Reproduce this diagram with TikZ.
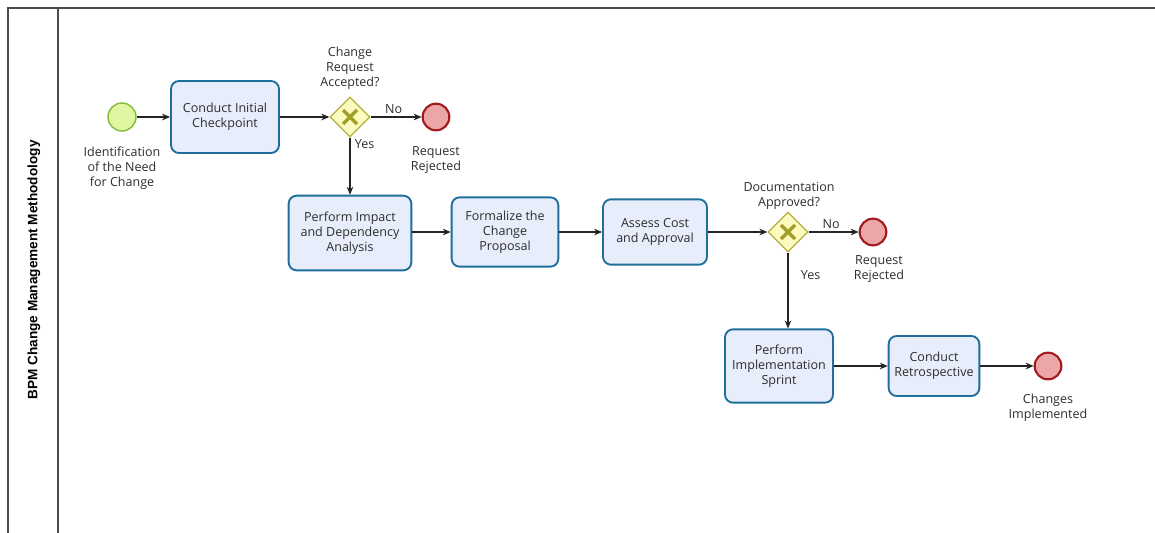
\documentclass[tikz,border=0pt]{standalone}
\usepackage{fontspec}
\setmainfont{Open Sans}
\newfontfamily\poolfont{Liberation Sans}
\usetikzlibrary{shapes.geometric, arrows.meta, positioning, calc}
\definecolor{taskblue}{RGB}{30, 110, 155}
\definecolor{taskfill}{RGB}{232, 237, 251}
\definecolor{startgreen}{RGB}{132, 190, 60}
\definecolor{startfill}{RGB}{224, 246, 160}
\definecolor{endred}{RGB}{160, 28, 30}
\definecolor{endfill}{RGB}{236, 166, 168}
\definecolor{gateolive}{RGB}{178, 178, 60}
\definecolor{gatefill}{RGB}{252, 250, 190}
\definecolor{crossolive}{RGB}{160, 160, 40}
\definecolor{textgray}{RGB}{45, 45, 45}
\tikzset{
    task/.style={
        rectangle, rounded corners=6pt, draw=taskblue, fill=taskfill,
        line width=1.4pt, text=textgray, align=center,
        font=\fontsize{9.4}{11.4}\selectfont, inner sep=2pt
    },
    startevent/.style={circle, minimum size=21pt, inner sep=0pt, draw=startgreen, fill=startfill, line width=1.1pt},
    endevent/.style={circle, minimum size=20pt, inner sep=0pt, draw=endred, fill=endfill, line width=1.6pt},
    gateway/.style={diamond, minimum width=30pt, minimum height=30pt, inner sep=0pt, draw=gateolive, fill=gatefill, line width=1pt},
    cross/.style={line width=2.6pt, color=crossolive},
    flow/.style={-{Stealth[length=6pt, width=5pt]}, line width=0.8pt, color=textgray!80!black},
    label/.style={font=\fontsize{9.4}{11.4}\selectfont, text=textgray, align=center},
    pool/.style={line width=1pt, color=black!70},
}

\begin{document}
\begin{tikzpicture}[x=0.75pt, y=-0.75pt]
    \useasboundingbox (0,0) rectangle (1155,532);

    % pool and lane header
    \draw[pool] (8,8) rectangle (1175,560);
    \draw[pool] (58,8) -- (58,560);
    \node[rotate=90, font=\poolfont\bfseries\fontsize{10.2}{12}\selectfont] (poolname) at (34,270) {BPM Change Management Methodology};

    % first row
    \node[startevent] (start) at (122,117) {};
    \node[task, minimum width=81pt, minimum height=54pt] (checkpoint) at (225,117) {Conduct Initial\\Checkpoint};
    \node[gateway] (accepted) at (350,117) {};
    \node[endevent] (rejectA) at (436,117) {};

    \node[label] (startlbl) at (122,168) {Identification\\of the Need\\for Change};
    \node[label] (acceptedlbl) at (350,68) {Change\\Request\\Accepted?};
    \node[label] (rejectAlbl) at (436,160) {Request\\Rejected};

    % second row
    \node[task, minimum width=92pt, minimum height=56pt] (impact) at (350,233) {Perform Impact\\and Dependency\\Analysis};
    \node[task, minimum width=80pt, minimum height=52pt] (proposal) at (505,232) {Formalize the\\Change\\Proposal};
    \node[task, minimum width=78pt, minimum height=49pt] (cost) at (655,232) {Assess Cost\\and Approval};
    \node[gateway] (approved) at (788,232) {};
    \node[endevent] (rejectB) at (873,232) {};

    \node[label] (approvedlbl) at (789,196) {Documentation\\Approved?};
    \node[label] (rejectBlbl) at (879,269) {Request\\Rejected};

    % third row
    \node[task, minimum width=81pt, minimum height=55pt] (sprint) at (779,366) {Perform\\Implementation\\Sprint};
    \node[task, minimum width=68pt, minimum height=45pt] (retro) at (934,366) {Conduct\\Retrospective};
    \node[endevent] (done) at (1048,366) {};

    \node[label] (donelbl) at (1048,408) {Changes\\Implemented};

    % gateway markers
    \foreach \g in {accepted, approved} {
        \draw[cross] ($(\g)+(-7,-7)$) -- ($(\g)+(7,7)$);
        \draw[cross] ($(\g)+(-7,7)$) -- ($(\g)+(7,-7)$);
    }

    % sequence flows
    \draw[flow] (start) -- (checkpoint);
    \draw[flow] (checkpoint) -- (accepted);
    \draw[flow] (accepted) -- node[label, pos=0.45, above=-1pt] {No} (rejectA);
    \draw[flow] (accepted) -- node[label, pos=0.12, right=0pt] {Yes} (impact);
    \draw[flow] (impact.east |- proposal) -- (proposal);
    \draw[flow] (proposal) -- (cost);
    \draw[flow] (cost) -- (approved);
    \draw[flow] (approved) -- node[label, pos=0.45, above=-1pt] {No} (rejectB);
    \draw[flow] (approved.south) -- node[label, pos=0.3, right=6pt] {Yes} (approved.south |- sprint.north);
    \draw[flow] (sprint) -- (retro);
    \draw[flow] (retro) -- (done);
\end{tikzpicture}
\end{document}
